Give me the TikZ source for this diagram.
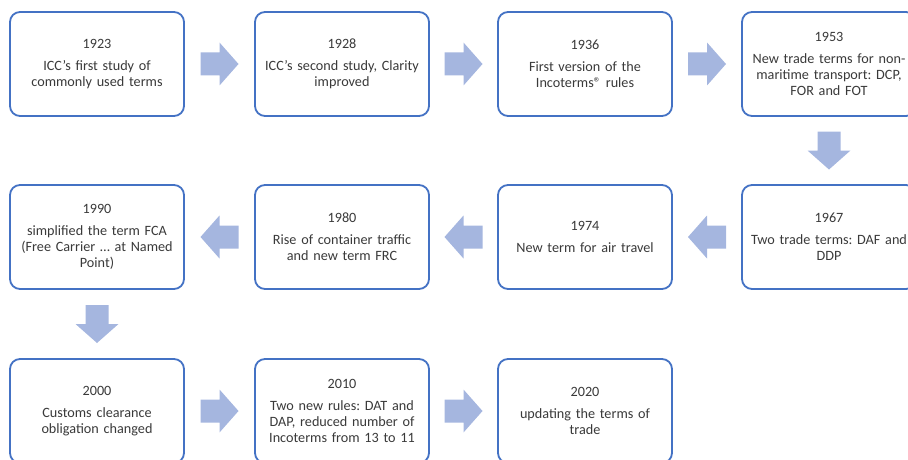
\documentclass[tikz,border=0pt]{standalone}
\usepackage{fontspec}
\setmainfont{Carlito}
\frenchspacing
\usetikzlibrary{calc}
\definecolor{BoxBlue}{HTML}{4472C4}
\definecolor{ArrowBlue}{HTML}{A5B6DF}
\definecolor{TextGray}{HTML}{3A3A3A}

\tikzset{
  stage/.style={draw=BoxBlue, line width=1.8pt, rounded corners=10pt, fill=white,
    minimum width=174pt, minimum height=104pt, text width=162pt, align=center,
    inner sep=0pt, text=TextGray, font=\fontsize{14.2}{15.8}\selectfont},
  blockarrow/.pic={
    \fill[ArrowBlue] (-19,-11.5) -- (0,-11.5) -- (0,-21.5) -- (19,0)
      -- (0,21.5) -- (0,11.5) -- (-19,11.5) -- cycle;}
}

\begin{document}
\begin{tikzpicture}[x=1pt,y=1pt]
    \useasboundingbox (0,0) rectangle (908,-460);
    \clip (0,0) rectangle (908,-460);

    % first row
    \node[stage] (b1923) at (97,-64) {1923\\[6pt]ICC's first study of\\commonly used terms};
    \node[stage] (b1928) at (342,-64) {1928\\[6pt]ICC's second study, Clarity\\improved};
    \node[stage] (b1936) at (585,-64) {1936\\[6pt]First version of the\\Incoterms® rules};
    \node[stage] (b1953) at (829,-64) {1953\\[6pt]New trade terms for non-\\maritime transport: DCP,\\FOR and FOT};

    % second row
    \node[stage] (b1967) at (829,-237) {1967\\[6pt]Two trade terms: DAF and\\DDP};
    \node[stage] (b1974) at (585,-237) {1974\\[6pt]New term for air travel};
    \node[stage] (b1980) at (342,-237) {1980\\[6pt]Rise of container traffic\\and new term FRC};
    \node[stage] (b1990) at (97,-237) {1990\\[6pt]simplified the term FCA\\(Free Carrier … at Named\\Point)};

    % third row
    \node[stage] (b2000) at (97,-411) {2000\\[6pt]Customs clearance\\obligation changed};
    \node[stage] (b2010) at (342,-411) {2010\\[6pt]Two new rules: DAT and\\DAP, reduced number of\\Incoterms from 13 to 11};
    \node[stage] (b2020) at (585,-411) {2020\\[6pt]updating the terms of\\trade};

    % arrows between the boxes
    \pic at ($(b1923.east)!0.5!(b1928.west)$) {blockarrow};
    \pic at ($(b1928.east)!0.5!(b1936.west)$) {blockarrow};
    \pic at ($(b1936.east)!0.5!(b1953.west)$) {blockarrow};
    \pic[rotate=-90] at ($(b1953.south)!0.5!(b1967.north)$) {blockarrow};
    \pic[rotate=180] at ($(b1967.west)!0.5!(b1974.east)$) {blockarrow};
    \pic[rotate=180] at ($(b1974.west)!0.5!(b1980.east)$) {blockarrow};
    \pic[rotate=180] at ($(b1980.west)!0.5!(b1990.east)$) {blockarrow};
    \pic[rotate=-90] at ($(b1990.south)!0.5!(b2000.north)$) {blockarrow};
    \pic at ($(b2000.east)!0.5!(b2010.west)$) {blockarrow};
    \pic at ($(b2010.east)!0.5!(b2020.west)$) {blockarrow};
\end{tikzpicture}
\end{document}
